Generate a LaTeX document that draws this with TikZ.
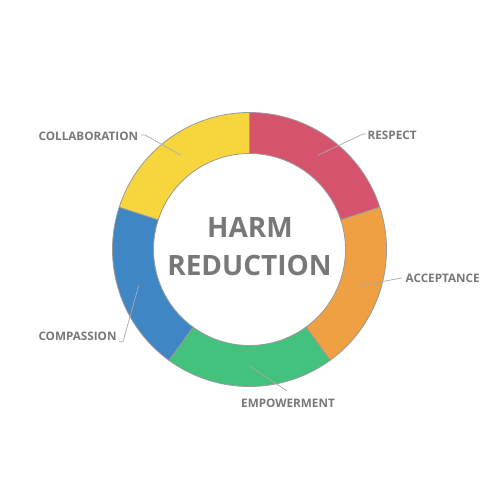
\documentclass[tikz,border=0pt]{standalone}
\usepackage{fontspec}
\setmainfont{Open Sans}
\usetikzlibrary{calc}
\definecolor{cred}{HTML}{D6536D}
\definecolor{corange}{HTML}{EFA043}
\definecolor{cgreen}{HTML}{42C27C}
\definecolor{cblue}{HTML}{3E86C4}
\definecolor{cyellow}{HTML}{F7D63D}
\definecolor{ringline}{HTML}{9A9A9A}
\definecolor{txtgrey}{HTML}{787878}
\definecolor{leadgrey}{HTML}{AAAAAA}
\tikzset{
  seg/.style={draw=ringline, line width=0.8pt},
  lbl/.style={inner sep=0pt, text=txtgrey, font=\fontsize{11.7}{14}\selectfont\bfseries},
  leader/.style={draw=leadgrey, line width=0.7pt},
  title/.style={inner sep=0pt, text=txtgrey, font=\fontsize{28}{38}\selectfont\bfseries, align=center}
}
\newcommand\donutseg[3]{%
  \path[seg, fill=#3, shift={(c)}] (#1:137) arc[start angle=#1, end angle=#2, radius=137]
    -- (#2:96) arc[start angle=#2, end angle=#1, radius=96] -- cycle;}
\begin{document}
\begin{tikzpicture}[x=1pt,y=1pt]
\useasboundingbox (0,0) rectangle (500,500);
\fill[white] (0,0) rectangle (500,500);
\coordinate (c) at (249.5,250.5);
% ring segments
\donutseg{18}{90}{cred}
\donutseg{-54}{18}{corange}
\donutseg{-126}{-54}{cgreen}
\donutseg{162}{234}{cblue}
\donutseg{90}{162}{cyellow}
% centre title
\node[title, anchor=base] (t1) at (250,262) {HARM};
\node[title, anchor=base] (t2) at (249.5,224) {REDUCTION};
% labels
\node[lbl, anchor=base west] (respect) at (367.5,360) {RESPECT};
\node[lbl, anchor=base west] (accept) at (405.5,217) {ACCEPTANCE};
\node[lbl, anchor=base] (empow) at (288,92) {EMPOWERMENT};
\node[lbl, anchor=base east] (compas) at (116.7,159) {COMPASSION};
\node[lbl, anchor=base east] (collab) at (138.3,359) {COLLABORATION};
% leader anchor points inside segments
\coordinate (pr) at ($(c)+(54:116.5)$);
\coordinate (po) at ($(c)+(-18:116.5)$);
\coordinate (pg) at ($(c)+(-90:116.5)$);
\coordinate (pb) at ($(c)+(198:116.5)$);
\coordinate (py) at ($(c)+(126:116.5)$);
% elbows
\coordinate (er) at (363,366);
\coordinate (er2) at (366,366);
\coordinate (eo) at (402,222);
\coordinate (eg) at (287,109);
\coordinate (eb) at (123,158.3);
\coordinate (eb2) at (119,158.3);
\coordinate (ey) at (145,365);
\coordinate (ey2) at (141,365);
% leaders
\path[leader] (pr) -- (er) -- (er2);
\path[leader] (po) -- (eo);
\path[leader] (pg) -- (eg);
\path[leader] (pb) -- (eb) -- (eb2);
\path[leader] (py) -- (ey) -- (ey2);
\end{tikzpicture}
\end{document}
